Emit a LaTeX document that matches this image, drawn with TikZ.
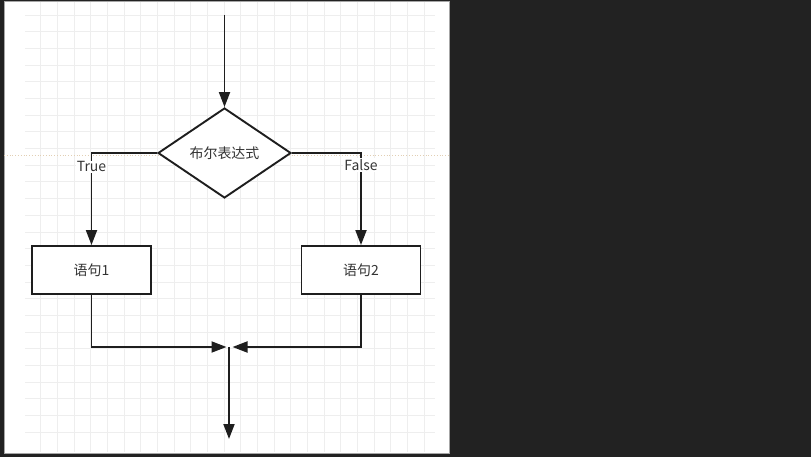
\documentclass[tikz,border=0pt]{standalone}
\usepackage{fontspec}
\setmainfont{Noto Sans CJK SC}
\usetikzlibrary{shapes.geometric,arrows.meta}
\tikzset{
  flowline/.style={line width=1.9bp, draw=lineblack},
  stmtbox/.style={draw=lineblack, line width=1.9bp, fill=white, minimum width=119bp,
                  minimum height=48bp, inner sep=0pt, text=textgray},
  condbox/.style={draw=lineblack, line width=1.9bp, fill=white, diamond, aspect=1.48,
                  minimum width=133bp, minimum height=90bp, inner sep=0pt, text=textgray},
  branchlabel/.style={fill=white, inner sep=1bp, text=textgray}
}
\begin{document}
\begin{tikzpicture}[x=1bp, y=-1bp, >={Triangle[length=15bp, width=11bp]}, line cap=butt,
                    font=\fontsize{14}{16}\selectfont]
  \definecolor{darkbg}{HTML}{222222}
  \definecolor{gridgray}{HTML}{EEEEEE}
  \definecolor{lineblack}{HTML}{1E1E1E}
  \definecolor{textgray}{HTML}{333333}
  \definecolor{guidetan}{HTML}{E2CFB4}
  \useasboundingbox (0,0) rectangle (811,457);
  % page and canvas
  \fill[darkbg] (0,0) rectangle (811,457);
  \fill[white, draw=gray!70, line width=1bp] (4,1.5) rectangle (449,453);
  % grid
  \foreach \i in {0,...,23} \draw[gridgray, line width=1bp] ({40.7+16.67*\i},2) -- ({40.7+16.67*\i},452);
  \foreach \j in {0,...,25} \draw[gridgray, line width=1bp] (25,{15.3+16.67*\j}) -- (435,{15.3+16.67*\j});
  \draw[guidetan, line width=0.8bp, dotted] (4,155.5) -- (449,155.5);
  % flow chart
  \coordinate (start) at (224.5,15);
  \node[condbox] (cond) at (224.5,153) {布尔表达式};
  \node[stmtbox] (stmta) at (91.5,270) {语句1};
  \node[stmtbox] (stmtb) at (361,270) {语句2};
  \coordinate (merge) at (229,347);
  \coordinate (finish) at (229,439);
  \draw[flowline, ->] (start) -- (cond.north);
  \draw[flowline, ->] (cond.west) -| node[branchlabel, pos=0.575] {True} (stmta.north);
  \draw[flowline, ->] (cond.east) -| node[branchlabel, pos=0.565] {False} (stmtb.north);
  \draw[flowline, ->] (stmta.south) |- ([xshift=-2.5bp]merge);
  \draw[flowline, ->] (stmtb.south) |- ([xshift=3.5bp]merge);
  \draw[flowline, ->] (merge) -- (finish);
\end{tikzpicture}
\end{document}
